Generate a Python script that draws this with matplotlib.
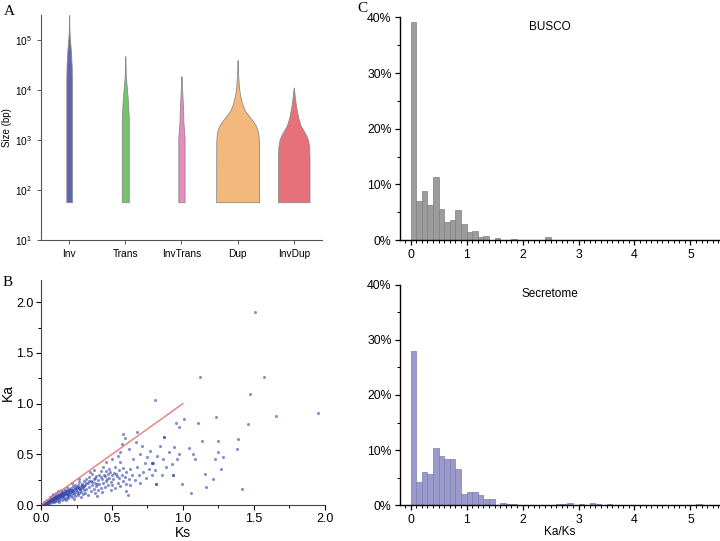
import numpy as np
import matplotlib
matplotlib.use("Agg")
import matplotlib.pyplot as plt
from matplotlib.ticker import MultipleLocator, FuncFormatter, LogLocator, NullLocator

plt.rcParams['font.family'] = ['Liberation Sans', 'DejaVu Sans']

# ---- panel A: violin outlines (log10 size, half width) ----
cats = ["Inv", "Trans", "InvTrans", "Dup", "InvDup"]
colors = ["#5e66b3", "#74c36d", "#e68cc2", "#f3b87c", "#e6717a"]
inv_lv = [1.76, 4.2, 4.5, 4.8, 5.05, 5.2, 5.5]
inv_hw = [0.05, 0.05, 0.045, 0.03, 0.012, 0.005, 0.002]
trans_lv = [1.76, 3.45, 3.8, 4.15, 4.3, 4.68]
trans_hw = [0.062, 0.062, 0.045, 0.02, 0.008, 0.002]
invtrans_lv = [1.76, 3.05, 3.35, 3.6, 3.95, 4.08, 4.28]
invtrans_hw = [0.056, 0.056, 0.035, 0.03, 0.015, 0.008, 0.002]
dup_lv = [1.76, 2.95, 3.1, 3.2, 3.3, 3.4, 3.5, 3.6, 3.75, 3.9, 4.05, 4.3, 4.6]
dup_hw = [0.382, 0.38, 0.372, 0.355, 0.32, 0.26, 0.19, 0.125, 0.075, 0.045, 0.025, 0.01, 0.002]
invdup_lv = [1.76, 2.65, 2.85, 3.0, 3.1, 3.2, 3.3, 3.45, 3.65, 3.85, 4.05]
invdup_hw = [0.28, 0.28, 0.275, 0.255, 0.22, 0.17, 0.12, 0.08, 0.045, 0.02, 0.002]
levels = [inv_lv, trans_lv, invtrans_lv, dup_lv, invdup_lv]
halfw = [inv_hw, trans_hw, invtrans_hw, dup_hw, invdup_hw]

# ---- panel B: Ks / Ka points ----
ks = [0.005, 0.01, 0.01, 0.015, 0.02, 0.02, 0.02, 0.025, 0.03, 0.03, 0.035, 0.035, 0.04, 0.04, 0.045,
      0.045, 0.05, 0.05, 0.05,
      0.055, 0.055, 0.06, 0.06, 0.065, 0.065, 0.07, 0.07, 0.075, 0.075, 0.08, 0.08, 0.085, 0.085, 0.09,
      0.09, 0.095, 0.095, 0.1, 0.1, 0.1,
      0.105, 0.105, 0.11, 0.11, 0.115, 0.12, 0.12, 0.12, 0.125, 0.125, 0.13, 0.13, 0.135, 0.14, 0.14,
      0.14, 0.145, 0.15, 0.15, 0.15,
      0.155, 0.16, 0.16, 0.165, 0.165, 0.17, 0.17, 0.175, 0.175, 0.18, 0.18, 0.185, 0.185, 0.19, 0.19,
      0.195, 0.2, 0.2, 0.2,
      0.205, 0.21, 0.21, 0.215, 0.215, 0.22, 0.22, 0.225, 0.23, 0.23, 0.235, 0.235, 0.24, 0.24, 0.245,
      0.25, 0.25,
      0.255, 0.26, 0.26, 0.265, 0.265, 0.27, 0.27, 0.275, 0.28, 0.28, 0.285, 0.29, 0.29, 0.295, 0.3,
      0.3, 0.3,
      0.31, 0.31, 0.32, 0.32, 0.33, 0.33, 0.34, 0.34, 0.345, 0.35, 0.35, 0.36, 0.36, 0.37, 0.37, 0.375,
      0.38, 0.38, 0.39, 0.39, 0.395, 0.4, 0.4,
      0.41, 0.41, 0.42, 0.42, 0.43, 0.43, 0.44, 0.44, 0.45, 0.45, 0.455, 0.46, 0.46, 0.47, 0.47, 0.48,
      0.48, 0.49, 0.49, 0.5, 0.5, 0.5,
      0.51, 0.52, 0.52, 0.53, 0.54, 0.54, 0.55, 0.55, 0.555, 0.56, 0.56, 0.57, 0.57, 0.575, 0.58, 0.58,
      0.59, 0.59, 0.6, 0.6, 0.6,
      0.61, 0.62, 0.62, 0.63, 0.63, 0.64, 0.65, 0.66, 0.67, 0.68, 0.68, 0.69, 0.7, 0.7, 0.71, 0.72,
      0.73, 0.74, 0.75, 0.76, 0.77, 0.78, 0.785, 0.79, 0.8,
      0.81, 0.82, 0.84, 0.85, 0.86, 0.87, 0.88, 0.9, 0.92, 0.93, 0.94, 0.96, 0.97,
      1.51, 1.12, 1.57, 1.47, 0.80, 1.95, 1.655, 1.23, 1.005, 1.11, 1.46, 0.95, 0.975, 1.39, 0.87,
      1.135, 1.245, 1.04, 1.385, 1.25, 1.07, 1.28, 1.225, 1.085, 1.27, 0.81, 0.995, 1.157, 1.21,
      1.165, 1.06, 1.415, 0.93, 0.785,
      # extra points in the dense cloud near the origin
      0.012, 0.018, 0.028, 0.033, 0.038, 0.043, 0.048, 0.058, 0.063, 0.068, 0.073, 0.078, 0.083,
      0.088, 0.093, 0.098, 0.108, 0.113, 0.118, 0.128, 0.133, 0.138, 0.143, 0.148, 0.158, 0.163,
      0.168, 0.178, 0.183, 0.188, 0.198, 0.208, 0.218, 0.228, 0.238, 0.248, 0.258, 0.268, 0.278,
      0.288, 0.298, 0.318, 0.338, 0.358, 0.378, 0.398, 0.425, 0.445, 0.465, 0.485, 0.515, 0.535]
ka = [0.002, 0.005, 0.015, 0.01, 0.015, 0.005, 0.03, 0.02, 0.01, 0.025, 0.015, 0.035, 0.03, 0.01, 0.02,
      0.045, 0.04, 0.015, 0.028,
      0.03, 0.06, 0.045, 0.02, 0.055, 0.08, 0.035, 0.06, 0.025, 0.09, 0.05, 0.07, 0.04, 0.11, 0.06,
      0.03, 0.075, 0.1, 0.05, 0.085, 0.035,
      0.065, 0.12, 0.04, 0.09, 0.07, 0.055, 0.1, 0.14, 0.08, 0.03, 0.045, 0.11, 0.065, 0.09, 0.12,
      0.15, 0.075, 0.05, 0.1, 0.13,
      0.085, 0.06, 0.115, 0.095, 0.16, 0.14, 0.07, 0.105, 0.045, 0.12, 0.08, 0.15, 0.18, 0.1, 0.065,
      0.13, 0.11, 0.16, 0.085,
      0.13, 0.095, 0.17, 0.12, 0.22, 0.145, 0.075, 0.19, 0.11, 0.16, 0.13, 0.06, 0.09, 0.2, 0.15,
      0.12, 0.175,
      0.14, 0.1, 0.2, 0.165, 0.26, 0.12, 0.23, 0.15, 0.19, 0.08, 0.13, 0.21, 0.17, 0.11, 0.15,
      0.24, 0.19,
      0.12, 0.2, 0.26, 0.16, 0.22, 0.1, 0.18, 0.28, 0.33, 0.14, 0.24, 0.2, 0.31, 0.16, 0.26, 0.35,
      0.22, 0.12, 0.29, 0.19, 0.09, 0.25, 0.15,
      0.21, 0.3, 0.17, 0.34, 0.26, 0.13, 0.22, 0.38, 0.29, 0.18, 0.34, 0.24, 0.42, 0.31, 0.2, 0.27,
      0.36, 0.15, 0.23, 0.3, 0.45, 0.2,
      0.26, 0.38, 0.17, 0.31, 0.22, 0.48, 0.35, 0.27, 0.52, 0.19, 0.42, 0.3, 0.6, 0.7, 0.24, 0.37,
      0.28, 0.66, 0.33, 0.14, 0.21,
      0.1, 0.26, 0.55, 0.36, 0.2, 0.3, 0.45, 0.25, 0.62, 0.38, 0.72, 0.3, 0.5, 0.22, 0.58, 0.33,
      0.41, 0.27, 0.47, 0.36, 0.53, 0.3, 0.41, 0.41, 0.35,
      0.21, 0.48, 0.58, 0.3, 0.45, 0.67, 0.38, 0.52, 0.4, 0.3, 0.57, 0.45, 0.5,
      1.905, 1.264, 1.258, 1.10, 1.034, 0.909, 0.88, 0.864, 0.847, 0.81, 0.80, 0.81, 0.77, 0.65, 0.667,
      0.635, 0.635, 0.56, 0.55, 0.52, 0.50, 0.47, 0.45, 0.45, 0.36, 0.21, 0.21, 0.31, 0.26,
      0.18, 0.115, 0.155, 0.30, 0.41,
      0.008, 0.012, 0.02, 0.022, 0.028, 0.025, 0.035, 0.04, 0.045, 0.05, 0.045, 0.055, 0.06,
      0.065, 0.07, 0.065, 0.08, 0.075, 0.085, 0.095, 0.085, 0.105, 0.11, 0.09, 0.125, 0.11,
      0.12, 0.135, 0.11, 0.14, 0.145, 0.15, 0.135, 0.14, 0.17, 0.165, 0.18, 0.17, 0.16,
      0.2, 0.18, 0.22, 0.24, 0.23, 0.27, 0.21, 0.28, 0.3, 0.26, 0.33, 0.32, 0.29]
line_x = [0, 1]
line_y = [0, 1]

# ---- panel C: Ka/Ks histograms, bin width 0.1, percent ----
bin_left = np.round(np.arange(0, 5.5, 0.1), 1)
busco_pct = [39.1, 7.0, 8.9, 6.3, 11.3, 5.6, 3.3, 3.6, 5.5, 2.9,
             1.4, 1.6, 0.5, 0.7, 0.0, 0.4, 0.0, 0.0, 0.2, 0.0,
             0.05, 0.0, 0.1, 0.0, 0.5, 0.0, 0.0, 0.0, 0.0, 0.0,
             0.0, 0.0, 0.0, 0.0, 0.1, 0.1, 0.1, 0.0, 0.0, 0.0,
             0.0, 0.0, 0.0, 0.0, 0.0, 0.0, 0.0, 0.0, 0.0, 0.0,
             0.0, 0.0, 0.0, 0.0, 0.05]
secre_pct = [28.0, 4.2, 6.0, 5.7, 10.4, 9.0, 8.3, 8.3, 6.5, 2.1,
             2.4, 2.4, 1.8, 1.1, 1.1, 0.0, 0.5, 0.3, 0.3, 0.0,
             0.0, 0.0, 0.0, 0.0, 0.0, 0.0, 0.3, 0.3, 0.5, 0.0,
             0.3, 0.0, 0.5, 0.3, 0.0, 0.3, 0.0, 0.0, 0.0, 0.0,
             0.0, 0.0, 0.0, 0.0, 0.0, 0.0, 0.0, 0.0, 0.0, 0.0,
             0.0, 0.3, 0.0, 0.0, 0.0]

fig = plt.figure(figsize=(7.2, 5.41), dpi=100)

# ---------------- A ----------------
axA = fig.add_axes([0.057, 0.556, 0.390, 0.416])
for i in range(len(cats)):
    y = 10 ** np.array(levels[i])
    w = np.array(halfw[i])
    axA.fill_betweenx(y, i + 1 - w, i + 1 + w, facecolor=colors[i], edgecolor="#8a8a8a", lw=0.6)
axA.set_yscale("log")
axA.set_ylim(10, 10 ** 5.5)
axA.set_xlim(0.5, 5.5)
axA.set_xticks(range(1, 6))
axA.set_xticklabels(cats)
axA.yaxis.set_major_locator(LogLocator(base=10, numticks=10))
axA.yaxis.set_minor_locator(NullLocator())
axA.set_ylabel("Size (bp)", fontsize=7, labelpad=2)
axA.tick_params(labelsize=7.3, length=3, width=0.7, color="#555555", direction="out")
for s in ["top", "right"]:
    axA.spines[s].set_visible(False)
for s in ["left", "bottom"]:
    axA.spines[s].set_color("#555555")
    axA.spines[s].set_linewidth(0.8)

# ---------------- B ----------------
axB = fig.add_axes([0.057, 0.0665, 0.394, 0.416])
axB.scatter(ks, ka, s=5, color="#3447ad", alpha=0.6, linewidths=0)
axB.plot(line_x, line_y, color="#f07a7a", lw=1)
axB.set_xlim(0, 2.0)
axB.set_ylim(0, 2.22)
axB.xaxis.set_major_locator(MultipleLocator(0.5))
axB.xaxis.set_minor_locator(MultipleLocator(0.25))
axB.yaxis.set_major_locator(MultipleLocator(0.5))
axB.yaxis.set_minor_locator(MultipleLocator(0.25))
axB.xaxis.set_major_formatter(FuncFormatter(lambda v, p: f"{v:.1f}"))
axB.yaxis.set_major_formatter(FuncFormatter(lambda v, p: f"{v:.1f}"))
axB.set_xlabel("Ks", fontsize=10, labelpad=1)
axB.set_ylabel("Ka", fontsize=10, labelpad=1)
axB.tick_params(which="major", labelsize=9, length=3.5, width=0.8, direction="out", pad=2)
axB.tick_params(which="minor", length=2, width=0.7, direction="out")
for s in ["top", "right"]:
    axB.spines[s].set_visible(False)
for s in ["left", "bottom"]:
    axB.spines[s].set_color("#444444")

# ---------------- C ----------------
def hist_panel(rect, vals, face, edge, title, xlabel=None):
    ax = fig.add_axes(rect)
    ax.bar(bin_left, vals, width=0.1, align="edge", color=face, edgecolor=edge, lw=0.5)
    ax.set_xlim(-0.19, 5.51)
    ax.set_ylim(0, 40)
    ax.xaxis.set_major_locator(MultipleLocator(1))
    ax.xaxis.set_minor_locator(MultipleLocator(0.1))
    ax.yaxis.set_major_locator(MultipleLocator(10))
    ax.yaxis.set_minor_locator(MultipleLocator(5))
    ax.yaxis.set_major_formatter(FuncFormatter(lambda v, p: f"{v:.0f}%"))
    ax.tick_params(which="major", labelsize=8.8, length=3.5, width=0.9, direction="out", pad=2.5)
    ax.tick_params(which="minor", length=2, width=0.7, direction="out")
    for s in ["top", "right"]:
        ax.spines[s].set_visible(False)
    ax.spines["left"].set_linewidth(1.0)
    ax.spines["bottom"].set_linewidth(1.0)
    ax.text(0.47, 0.955, title, transform=ax.transAxes, ha="center", va="center", fontsize=8.5)
    if xlabel:
        ax.set_xlabel(xlabel, fontsize=8.5, labelpad=0)
    return ax

hist_panel([0.5556, 0.556, 0.443, 0.412], busco_pct, "#9c9c9c", "#808080", "BUSCO")
hist_panel([0.5556, 0.066, 0.443, 0.408], secre_pct, "#9a9acb", "#7c7cb0", "Secretome", "Ka/Ks")

# panel letters
for lab, x, y in [("A", 0.005, 0.978), ("B", 0.004, 0.477), ("C", 0.497, 0.985)]:
    fig.text(x, y, lab, fontsize=11, family="Liberation Serif", va="center", ha="left")

fig.savefig("out.png", dpi=100)
